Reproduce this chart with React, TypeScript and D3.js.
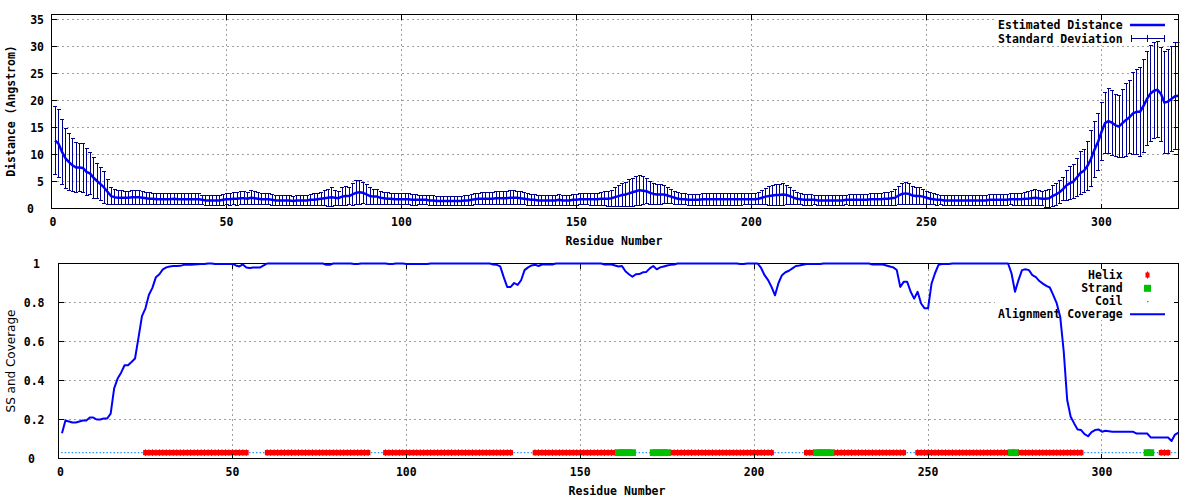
import React from "react";
import * as d3 from "d3";

// ---------- DATA ----------
// Estimated distance (Angstrom) per residue 1..322
const distance: number[] = [
  12.6, 12.0, 10.5, 9.3, 8.6, 8.0, 7.6, 7.6, 7.5, 6.8,
  6.5, 5.7, 5.1, 4.5, 3.9, 3.1, 2.3, 2.1, 2.0, 2.0,
  2.0, 2.0, 2.1, 2.1, 2.1, 2.0, 1.9, 1.8, 1.8, 1.7,
  1.7, 1.7, 1.7, 1.7, 1.8, 1.7, 1.7, 1.7, 1.7, 1.7,
  1.7, 1.7, 1.6, 1.5, 1.5, 1.5, 1.5, 1.5, 1.6, 1.7,
  1.7, 1.8, 1.8, 1.9, 1.9, 1.8, 2.0, 1.9, 1.8, 1.7,
  1.7, 1.7, 1.6, 1.5, 1.5, 1.5, 1.5, 1.5, 1.4, 1.5,
  1.5, 1.5, 1.5, 1.6, 1.6, 1.7, 1.8, 1.9, 2.0, 2.1,
  2.0, 1.9, 2.2, 2.3, 2.3, 2.6, 2.9, 3.0, 2.9, 2.6,
  2.3, 2.2, 2.2, 2.0, 1.9, 1.8, 1.8, 1.7, 1.7, 1.7,
  1.7, 1.7, 1.6, 1.6, 1.6, 1.6, 1.6, 1.5, 1.5, 1.4,
  1.4, 1.4, 1.4, 1.4, 1.4, 1.4, 1.4, 1.5, 1.5, 1.6,
  1.7, 1.8, 1.8, 1.8, 1.8, 1.8, 1.9, 1.9, 1.9, 1.9,
  2.0, 2.0, 2.0, 1.9, 1.8, 1.7, 1.6, 1.6, 1.5, 1.5,
  1.5, 1.5, 1.5, 1.5, 1.6, 1.5, 1.5, 1.5, 1.6, 1.6,
  1.7, 1.7, 1.7, 1.7, 1.7, 1.7, 1.8, 1.8, 1.8, 1.9,
  2.1, 2.3, 2.5, 2.6, 2.8, 3.0, 3.2, 3.4, 3.3, 3.2,
  2.9, 2.7, 2.6, 2.6, 2.6, 2.4, 2.2, 2.0, 1.8, 1.7,
  1.7, 1.6, 1.6, 1.6, 1.6, 1.7, 1.7, 1.7, 1.7, 1.7,
  1.7, 1.7, 1.7, 1.7, 1.7, 1.7, 1.7, 1.7, 1.7, 1.7,
  1.7, 1.8, 2.0, 2.2, 2.3, 2.4, 2.5, 2.5, 2.6, 2.5,
  2.3, 2.0, 1.8, 1.7, 1.6, 1.6, 1.6, 1.6, 1.5, 1.5,
  1.5, 1.5, 1.5, 1.5, 1.5, 1.5, 1.6, 1.6, 1.6, 1.6,
  1.6, 1.6, 1.6, 1.7, 1.7, 1.7, 1.7, 1.8, 1.8, 1.9,
  2.0, 2.4, 2.7, 2.8, 2.7, 2.4, 2.3, 2.3, 2.2, 2.0,
  1.8, 1.7, 1.6, 1.6, 1.5, 1.5, 1.5, 1.5, 1.5, 1.5,
  1.5, 1.5, 1.5, 1.5, 1.5, 1.5, 1.5, 1.6, 1.6, 1.6,
  1.6, 1.6, 1.6, 1.7, 1.7, 1.7, 1.7, 1.8, 1.8, 1.9,
  2.0, 1.9, 1.8, 1.8, 1.9, 2.3, 2.6, 3.0, 3.6, 4.3,
  4.7, 5.0, 5.8, 6.6, 7.0, 7.9, 9.2, 10.9, 12.3, 14.2,
  15.8, 16.2, 15.9, 15.4, 15.2, 15.8, 16.4, 16.9, 17.6, 17.9,
  17.9, 19.0, 20.3, 21.3, 21.8, 22.0, 21.2, 19.6, 19.8, 20.3,
  20.8, 20.9,
];

// Standard deviation per residue
const stdDev: number[] = [
  6.3, 6.3, 6.0, 5.6, 5.2, 4.9, 4.6, 4.5, 4.5, 4.3,
  3.9, 3.8, 3.3, 3.1, 2.9, 2.3, 1.5, 1.4, 1.3, 1.3,
  1.2, 1.2, 1.3, 1.3, 1.3, 1.2, 1.1, 1.1, 1.0, 1.0,
  1.0, 1.0, 1.0, 1.0, 1.0, 1.0, 1.0, 1.0, 1.0, 1.0,
  1.0, 1.0, 0.9, 0.9, 0.9, 0.9, 0.9, 1.0, 1.0, 1.0,
  1.1, 1.1, 1.2, 1.2, 1.2, 1.1, 1.3, 1.2, 1.1, 1.0,
  1.0, 1.0, 1.0, 1.0, 1.0, 0.9, 0.9, 0.9, 0.9, 0.9,
  0.9, 0.9, 1.0, 1.0, 1.1, 1.1, 1.2, 1.4, 1.6, 1.8,
  1.4, 1.3, 1.7, 1.8, 1.6, 2.0, 2.2, 2.2, 2.0, 1.8,
  1.5, 1.4, 1.4, 1.2, 1.1, 1.1, 1.0, 1.0, 1.0, 1.0,
  1.0, 1.0, 1.0, 1.0, 0.9, 0.9, 0.9, 0.9, 0.9, 0.9,
  0.9, 0.9, 0.9, 0.9, 0.9, 0.9, 0.9, 0.9, 1.0, 1.0,
  1.0, 1.0, 1.1, 1.1, 1.1, 1.1, 1.2, 1.2, 1.2, 1.2,
  1.3, 1.3, 1.2, 1.2, 1.1, 1.1, 1.0, 1.0, 0.9, 0.9,
  0.9, 0.9, 0.9, 0.9, 1.0, 0.9, 0.9, 0.9, 1.0, 1.0,
  1.0, 1.0, 1.0, 1.1, 1.1, 1.1, 1.2, 1.3, 1.4, 1.5,
  1.7, 1.9, 2.1, 2.3, 2.5, 2.6, 2.7, 2.8, 2.6, 2.3,
  2.1, 2.0, 1.8, 1.8, 1.7, 1.5, 1.3, 1.2, 1.1, 1.0,
  1.0, 1.0, 1.0, 1.0, 1.0, 1.1, 1.1, 1.1, 1.1, 1.1,
  1.1, 1.1, 1.1, 1.1, 1.1, 1.1, 1.1, 1.0, 1.0, 1.0,
  1.0, 1.1, 1.3, 1.5, 1.7, 1.9, 2.0, 2.0, 2.1, 1.8,
  1.6, 1.3, 1.1, 1.0, 1.0, 1.0, 1.0, 0.9, 0.9, 0.9,
  0.9, 0.9, 0.9, 0.9, 0.9, 0.9, 0.9, 1.0, 1.0, 1.0,
  1.0, 1.0, 1.0, 1.1, 1.1, 1.1, 1.1, 1.2, 1.2, 1.3,
  1.5, 1.7, 1.9, 2.0, 1.9, 1.7, 1.6, 1.5, 1.4, 1.2,
  1.1, 1.0, 1.0, 0.9, 0.9, 0.9, 0.9, 0.9, 0.9, 0.9,
  0.9, 0.9, 0.9, 0.9, 0.9, 0.9, 0.9, 1.0, 1.0, 1.0,
  1.0, 1.0, 1.0, 1.0, 1.1, 1.1, 1.1, 1.2, 1.3, 1.4,
  1.5, 1.4, 1.3, 1.6, 1.7, 1.9, 2.0, 2.1, 2.2, 2.8,
  3.0, 3.1, 3.5, 4.0, 4.0, 4.6, 5.2, 5.2, 5.3, 5.4,
  5.7, 6.0, 6.0, 5.8, 5.7, 6.3, 6.8, 6.8, 7.6, 7.9,
  8.3, 8.6, 8.7, 8.8, 8.9, 8.9, 8.7, 9.5, 9.6, 9.7,
  9.9, 9.9,
];

// Alignment coverage per residue
const coverage: number[] = [
  0.13, 0.195, 0.19, 0.185, 0.185, 0.19, 0.195, 0.195, 0.21, 0.21,
  0.2, 0.2, 0.205, 0.205, 0.23, 0.36, 0.41, 0.44, 0.478, 0.478,
  0.495, 0.513, 0.62, 0.73, 0.77, 0.84, 0.875, 0.93, 0.945, 0.97,
  0.98, 0.985, 0.987, 0.987, 0.988, 0.993, 0.994, 0.994, 0.995, 0.996,
  0.997, 0.998, 1, 1, 0.998, 0.998, 0.998, 0.998, 0.998, 0.998,
  0.99, 0.985, 0.995, 0.98, 0.977, 0.98, 0.98, 0.98, 0.99, 1,
  1, 1, 1, 1, 1, 1, 1, 1, 1, 1,
  1, 1, 1, 1, 1, 1, 0.993, 0.993, 1, 1,
  1, 1, 1, 1, 0.997, 0.997, 1, 1, 1, 1,
  1, 1, 1, 1, 0.998, 0.998, 1, 1, 1, 0.998,
  0.997, 0.997, 0.997, 0.997, 0.997, 0.997, 1, 1, 1, 1,
  1, 1, 1, 1, 1, 1, 1, 1, 1, 1,
  1, 1, 1, 1, 0.995, 0.993, 0.985, 0.93, 0.88, 0.88,
  0.9, 0.89, 0.914, 0.966, 0.98, 0.99, 0.994, 0.987, 0.995, 0.995,
  0.995, 0.995, 1, 1, 1, 1, 1, 1, 1, 1,
  1, 1, 1, 1, 1, 1, 0.995, 0.995, 0.995, 0.99,
  0.985, 0.987, 0.96, 0.945, 0.932, 0.945, 0.946, 0.955, 0.957, 0.975,
  0.987, 0.97, 0.98, 0.985, 0.99, 0.993, 0.995, 1, 1, 1,
  1, 1, 1, 1, 1, 1, 1, 1, 1, 1,
  1, 1, 1, 1, 1, 0.997, 0.997, 1, 1, 1,
  1, 0.977, 0.94, 0.915, 0.88, 0.837, 0.9, 0.94, 0.955, 0.963,
  0.975, 0.987, 0.99, 0.994, 0.997, 0.997, 0.997, 0.997, 0.997, 1,
  1, 1, 1, 1, 1, 1, 1, 1, 1, 1,
  1, 1, 1, 0.995, 0.995, 0.995, 0.995, 0.99, 0.985, 0.98,
  0.967, 0.88, 0.906, 0.906, 0.855, 0.82, 0.855, 0.795, 0.77, 0.77,
  0.897, 0.95, 0.993, 0.997, 0.998, 0.998, 1, 1, 1, 1,
  1, 1, 1, 1, 1, 1, 1, 1, 1, 1,
  1, 1, 1, 0.949, 0.855, 0.915, 0.966, 0.97, 0.966, 0.94,
  0.93, 0.91, 0.897, 0.885, 0.877, 0.838, 0.795, 0.726, 0.55, 0.3,
  0.214, 0.18, 0.149, 0.146, 0.125, 0.114, 0.135, 0.146, 0.149, 0.137,
  0.142, 0.14, 0.137, 0.137, 0.137, 0.137, 0.137, 0.137, 0.137, 0.128,
  0.128, 0.128, 0.128, 0.108, 0.108, 0.108, 0.108, 0.108, 0.108, 0.09,
  0.123, 0.133,
];

// Secondary structure segments: [type, firstResidue, lastResidue]
const ssSegments: [string, number, number][] = [
  ["C", 1, 24], ["H", 25, 54], ["C", 55, 59], ["H", 60, 89], ["C", 90, 93],
  ["H", 94, 130], ["C", 131, 136], ["H", 137, 160], ["E", 161, 165],
  ["C", 166, 170], ["E", 171, 175], ["H", 176, 205], ["C", 206, 214],
  ["H", 215, 217], ["E", 218, 222], ["H", 223, 243], ["C", 244, 246],
  ["H", 247, 273], ["E", 274, 275], ["H", 276, 294], ["C", 295, 312],
  ["E", 313, 314], ["C", 315, 316], ["H", 317, 319], ["C", 320, 322],
];
const ssLevel = 0.03;

const residueTicks = [0, 50, 100, 150, 200, 250, 300];
const distanceTicks = [0, 5, 10, 15, 20, 25, 30, 35];
const coverageTicks = [0, 0.2, 0.4, 0.6, 0.8, 1];

// ---------- STYLE ----------
const MONO = '"DejaVu Sans Mono", "Liberation Mono", monospace';
const SANS = '"DejaVu Sans", sans-serif';
const monoText = { fontFamily: MONO, fontWeight: "bold" as const, fontSize: 11.5, fill: "#000" };
const GRID = "#a0a0a0";
const BLUE = "#0000ff";
const NAVY = "#00008f";
const RED = "#ff0000";
const GREEN = "#00c000";
const COIL = "#1e90ff";

export default function App() {
  const residues = d3.range(1, distance.length + 1);

  // top panel
  const T = { l: 51.5, r: 1178.5, t: 14.1, b: 208.5 };
  const tx = d3.scaleLinear().domain([0, 322]).range([T.l, T.r]);
  const ty = d3.scaleLinear().domain([0, 36]).range([T.b, T.t]);
  // bottom panel
  const B = { l: 58.5, r: 1178.5, t: 263.5, b: 458.5 };
  const bx = d3.scaleLinear().domain([0, 322]).range([B.l, B.r]);
  const by = d3.scaleLinear().domain([0, 1]).range([B.b, B.t]);
  const step = bx(1) - bx(0);

  const distLine = d3
    .line<number>()
    .x((_, i) => tx(residues[i]))
    .y((d) => ty(d))(distance) as string;
  const covLine = d3
    .line<number>()
    .x((_, i) => bx(residues[i]))
    .y((d) => by(d))(coverage) as string;

  const ssPerResidue: { r: number; t: string }[] = [];
  ssSegments.forEach(([t, a, b]) => {
    for (let r = a; r <= b; r++) ssPerResidue.push({ r, t });
  });

  const tickLen = 5;
  const ssY = by(ssLevel);

  return (
    <svg
      width={1200}
      height={500}
      style={{ position: "absolute", left: 0, top: 0, background: "#fff" }}
    >
      <defs>
        <clipPath id="clipTop">
          <rect x={T.l} y={T.t - 1} width={T.r - T.l + 1} height={T.b - T.t + 2} />
        </clipPath>
        <clipPath id="clipBot">
          <rect x={B.l} y={B.t - 2} width={B.r - B.l + 1} height={B.b - B.t + 3} />
        </clipPath>
      </defs>
      <rect x={0} y={0} width={1200} height={500} fill="#fff" />

      {/* ================= TOP PANEL ================= */}
      <g shapeRendering="crispEdges">
        {distanceTicks.filter((v) => v > 0).map((v) => (
          <line key={"tgy" + v} x1={T.l} x2={T.r} y1={ty(v)} y2={ty(v)} stroke={GRID} strokeDasharray="2,3" />
        ))}
        {residueTicks.filter((v) => v > 0).map((v) => (
          <line key={"tgx" + v} x1={tx(v)} x2={tx(v)} y1={T.t} y2={T.b} stroke={GRID} strokeDasharray="2,3" />
        ))}
      </g>
      {/* key background */}
      <rect x={995} y={15} width={182} height={30} fill="#fff" />
      <text x={1122.7} y={25} textAnchor="end" dominantBaseline="central" style={monoText}>Estimated Distance</text>
      <text x={1122.7} y={38.7} textAnchor="end" dominantBaseline="central" style={monoText}>Standard Deviation</text>
      <line x1={1130} x2={1165} y1={25} y2={25} stroke={BLUE} strokeWidth={2.5} />
      <g stroke={NAVY} strokeWidth={1} shapeRendering="crispEdges">
        <line x1={1131} x2={1164} y1={38.5} y2={38.5} />
        <line x1={1131} x2={1131} y1={35} y2={42} />
        <line x1={1147.5} x2={1147.5} y1={35} y2={42} />
        <line x1={1164} x2={1164} y1={35} y2={42} />
      </g>

      {/* error bars + line */}
      <g clipPath="url(#clipTop)">
        <g stroke={NAVY} strokeWidth={1} fill="none" shapeRendering="crispEdges">
          {residues.map((r, i) => {
            const x = tx(r);
            const lo = ty(distance[i] - stdDev[i]);
            const hi = ty(distance[i] + stdDev[i]);
            return (
              <g key={"eb" + r}>
                <line x1={x} x2={x} y1={lo} y2={hi} />
                <line x1={x - 2} x2={x + 2} y1={lo} y2={lo} />
                <line x1={x - 2} x2={x + 2} y1={hi} y2={hi} />
              </g>
            );
          })}
        </g>
        <path d={distLine} fill="none" stroke={BLUE} strokeWidth={2.5} strokeLinejoin="round" />
      </g>

      {/* border and ticks */}
      <g shapeRendering="crispEdges" stroke="#000" strokeWidth={1}>
        <rect x={T.l} y={14.5} width={T.r - T.l} height={T.b - 14.5} fill="none" />
        {distanceTicks.map((v) => (
          <g key={"tty" + v}>
            <line x1={T.l} x2={T.l + tickLen} y1={ty(v)} y2={ty(v)} />
            <line x1={T.r - tickLen} x2={T.r} y1={ty(v)} y2={ty(v)} />
          </g>
        ))}
        {residueTicks.map((v) => (
          <g key={"ttx" + v}>
            <line x1={tx(v)} x2={tx(v)} y1={T.b} y2={T.b - tickLen} />
            <line x1={tx(v)} x2={tx(v)} y1={14.5} y2={14.5 + tickLen} />
          </g>
        ))}
      </g>
      {distanceTicks.map((v) => (
        <text key={"tly" + v} x={v === 0 ? 34 : 44} y={ty(v)} textAnchor="end" dominantBaseline="central" style={monoText}>
          {v}
        </text>
      ))}
      {residueTicks.map((v) => (
        <text key={"tlx" + v} x={tx(v) + (v === 0 ? 1.5 : 0)} y={221.7} textAnchor="middle" dominantBaseline="central" style={monoText}>
          {v}
        </text>
      ))}
      <text x={614} y={240.7} textAnchor="middle" dominantBaseline="central" style={monoText}>Residue Number</text>
      <text transform="translate(10.5,111) rotate(-90)" textAnchor="middle" dominantBaseline="central" style={monoText}>
        Distance (Angstrom)
      </text>

      {/* ================= BOTTOM PANEL ================= */}
      <g shapeRendering="crispEdges">
        {coverageTicks.filter((v) => v > 0 && v < 1).map((v) => (
          <line key={"bgy" + v} x1={B.l} x2={B.r} y1={by(v)} y2={by(v)} stroke={GRID} strokeDasharray="2,3" />
        ))}
        {residueTicks.filter((v) => v > 0).map((v) => (
          <line key={"bgx" + v} x1={bx(v)} x2={bx(v)} y1={B.t} y2={B.b} stroke={GRID} strokeDasharray="2,3" />
        ))}
      </g>
      <rect x={995} y={265} width={182} height={55} fill="#fff" />
      <text x={1122.7} y={275} textAnchor="end" dominantBaseline="central" style={monoText}>Helix</text>
      <text x={1122.7} y={288.3} textAnchor="end" dominantBaseline="central" style={monoText}>Strand</text>
      <text x={1122.7} y={301.3} textAnchor="end" dominantBaseline="central" style={monoText}>Coil</text>
      <text x={1122.7} y={314.3} textAnchor="end" dominantBaseline="central" style={monoText}>Alignment Coverage</text>
      <rect x={1145.5} y={272.5} width={4} height={5} fill={RED} />
      <line x1={1147.5} x2={1147.5} y1={271.5} y2={278.5} stroke={RED} strokeWidth={1} />
      <rect x={1144} y={284.8} width={7} height={7} fill={GREEN} />
      <rect x={1147} y={301} width={1.5} height={1.2} fill={COIL} />
      <line x1={1130} x2={1165} y1={314.3} y2={314.3} stroke={BLUE} strokeWidth={2} />

      <g clipPath="url(#clipBot)">
        {ssPerResidue.filter((d) => d.t === "C").map((d) => (
          <rect key={"c" + d.r} x={bx(d.r) - 0.75} y={ssY - 0.6} width={1.5} height={1.2} fill={COIL} />
        ))}
        {ssPerResidue.filter((d) => d.t === "H").map((d) => (
          <g key={"h" + d.r}>
            <rect x={bx(d.r) - step / 2 - 0.6} y={ssY - 2.6} width={step + 1.2} height={5.2} fill={RED} />
            <line x1={bx(d.r)} x2={bx(d.r)} y1={ssY - 3.4} y2={ssY + 3.4} stroke={RED} strokeWidth={1} />
          </g>
        ))}
        {ssPerResidue.filter((d) => d.t === "E").map((d) => (
          <rect key={"e" + d.r} x={bx(d.r) - 3.5} y={ssY - 3.4} width={7} height={6.8} fill={GREEN} />
        ))}
      </g>

      <g shapeRendering="crispEdges" stroke="#000" strokeWidth={1}>
        <rect x={B.l} y={B.t} width={B.r - B.l} height={B.b - B.t} fill="none" />
        {coverageTicks.map((v) => (
          <g key={"bty" + v}>
            <line x1={B.l} x2={B.l + tickLen} y1={by(v)} y2={by(v)} />
            <line x1={B.r - tickLen} x2={B.r} y1={by(v)} y2={by(v)} />
          </g>
        ))}
        {residueTicks.map((v) => (
          <g key={"btx" + v}>
            <line x1={bx(v)} x2={bx(v)} y1={B.b} y2={B.b - tickLen} />
            <line x1={bx(v)} x2={bx(v)} y1={B.t} y2={B.t + tickLen} />
          </g>
        ))}
      </g>
      <g clipPath="url(#clipBot)">
        <path d={covLine} fill="none" stroke={BLUE} strokeWidth={2} strokeLinejoin="round" />
      </g>
      {coverageTicks.map((v) => (
        <text key={"bly" + v} x={v === 0 ? 35 : v === 1 ? 40 : 44.5} y={by(v)} textAnchor="end" dominantBaseline="central" style={monoText}>
          {String(v)}
        </text>
      ))}
      {residueTicks.map((v) => (
        <text key={"blx" + v} x={bx(v) + (v === 0 ? 2 : 0)} y={471.7} textAnchor="middle" dominantBaseline="central" style={monoText}>
          {v}
        </text>
      ))}
      <text x={617} y={491} textAnchor="middle" dominantBaseline="central" style={monoText}>Residue Number</text>
      <text
        transform="translate(11,361) rotate(-90)"
        textAnchor="middle"
        dominantBaseline="central"
        style={{ fontFamily: SANS, fontSize: 12, fill: "#000" }}
      >
        SS and Coverage
      </text>
    </svg>
  );
}
